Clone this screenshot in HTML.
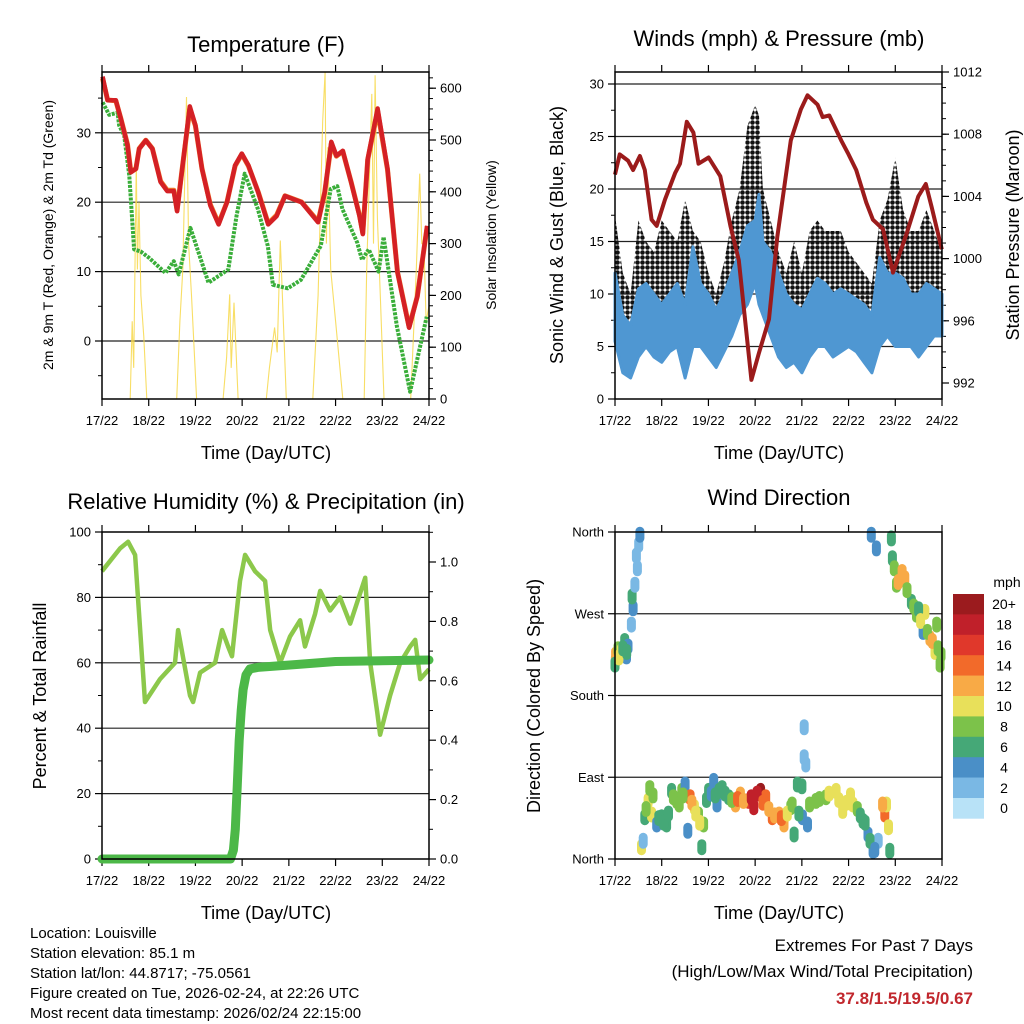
<!DOCTYPE html>
<html><head><meta charset="utf-8"><title>Weather Station Charts</title>
<style>
html,body{margin:0;padding:0;background:#fff;}
svg{display:block;font-family:"Liberation Sans",Arial,sans-serif;}
</style></head>
<body>
<svg id="chart" width="1024" height="1024" viewBox="0 0 1024 1024" xmlns="http://www.w3.org/2000/svg">
<defs>
<pattern id="dotpat" patternUnits="userSpaceOnUse" width="5" height="5">
<circle cx="2.5" cy="2.5" r="2.3" fill="#111"/>
</pattern>
</defs>
<rect width="1024" height="1024" fill="#fff"/>
<text x="266" y="52" font-size="22" text-anchor="middle">Temperature (F)</text>
<text x="779" y="46" font-size="22" text-anchor="middle">Winds (mph) &amp; Pressure (mb)</text>
<text x="266" y="509" font-size="22" text-anchor="middle">Relative Humidity (%) &amp; Precipitation (in)</text>
<text x="779" y="505" font-size="22" text-anchor="middle">Wind Direction</text>
<text x="266" y="459" font-size="18" text-anchor="middle">Time (Day/UTC)</text>
<text x="779" y="459" font-size="18" text-anchor="middle">Time (Day/UTC)</text>
<text x="266" y="919" font-size="18" text-anchor="middle">Time (Day/UTC)</text>
<text x="779" y="919" font-size="18" text-anchor="middle">Time (Day/UTC)</text>
<text transform="translate(53,235) rotate(-90)" font-size="14" text-anchor="middle">2m &amp; 9m T (Red, Orange) &amp; 2m Td (Green)</text>
<text transform="translate(496,235) rotate(-90)" font-size="14" text-anchor="middle">Solar Insolation (Yellow)</text>
<text transform="translate(563,235) rotate(-90)" font-size="18" text-anchor="middle">Sonic Wind &amp; Gust (Blue, Black)</text>
<text transform="translate(1019,235) rotate(-90)" font-size="18" text-anchor="middle">Station Pressure (Maroon)</text>
<text transform="translate(46,696) rotate(-90)" font-size="18" text-anchor="middle">Percent &amp; Total Rainfall</text>
<text transform="translate(540,696) rotate(-90)" font-size="18" text-anchor="middle">Direction (Colored By Speed)</text>
<g font-size="15">
<text x="30" y="938">Location: Louisville</text>
<text x="30" y="958">Station elevation: 85.1 m</text>
<text x="30" y="978">Station lat/lon: 44.8717; -75.0561</text>
<text x="30" y="998">Figure created on Tue, 2026-02-24, at 22:26 UTC</text>
<text x="30" y="1018">Most recent data timestamp: 2026/02/24 22:15:00</text>
</g>
<g font-size="17" text-anchor="end">
<text x="973" y="951">Extremes For Past 7 Days</text>
<text x="973" y="977">(High/Low/Max Wind/Total Precipitation)</text>
<text x="973" y="1004" font-weight="bold" fill="#c1272d">37.8/1.5/19.5/0.67</text>
</g>
<g id="layer"></g>
</svg>
<script>
const dayLabels = ["17/22","18/22","19/22","20/22","21/22","22/22","23/22","24/22"];
const tempTicks = [0,10,20,30];
const solarTicks = [0,100,200,300,400,500,600];
const windTicks = [0,5,10,15,20,25,30];
const presTicks = [992,996,1000,1004,1008,1012];
const rhTicks = [0,20,40,60,80,100];
const pcpTicks = ["0.0","0.2","0.4","0.6","0.8","1.0"];
const dirTickLabels = ["North","East","South","West","North"];
const speedBins = ["0","2","4","6","8","10","12","14","16","18","20+"];

const tempT = [0.3,2.9,7.1,9.7,13.1,14.8,17.4,19.1,22.5,25.9,30.1,33.5,36.9,38.6,41.2,45.1,48,51.4,55.7,59.9,64.2,68.4,71.8,75.2,80.3,85.4,89.7,94,102.5,111,114.4,117.8,120.4,123.7,128,132.3,134,136.5,141.6,146.7,151.8,157.8,162,167.1];
const temp2m = [38.1,34.7,34.7,32,28.2,24.3,24.8,27.7,28.9,27.7,22.9,21.6,21.6,18.7,24.8,33.8,31.1,24.8,19.5,16.8,20,25.3,27,25.3,21.4,16.8,18,20.9,20,17.1,21.4,28.7,26.7,27.4,22.9,18,15.4,26.2,33.5,24.8,9.9,1.9,6.4,16.6];
const temp9m = [38.0,34.9,34.8,32.2,28.5,24.6,25.0,27.9,29.1,27.9,23.2,21.9,21.9,19.0,25.0,33.6,31.2,25.0,19.8,17.1,20.2,25.4,27.1,25.4,21.6,17.1,18.3,21.1,20.2,17.4,21.6,28.6,26.8,27.5,23.1,18.3,15.7,26.3,33.3,24.9,10.1,2.2,6.6,16.7];
const dewT = [0.3,3.7,8,8.8,11.4,14,16.5,19.9,24.1,32.6,36.9,39.4,45.4,54.7,64.9,69.1,73.3,80.1,85.2,87.8,95.4,102.2,112.4,117.5,120.9,123.5,131.1,133.6,137,142.1,144.7,151.5,158.3,166.8];
const dew = [34.4,32.6,32.9,31.1,29.6,23.8,13.2,12.9,12,9.8,11.5,9.6,16.3,8.4,10.3,18,24.1,19,13.7,8.1,7.6,8.8,13.7,21.9,22.3,19,14.2,11.7,13.2,10,15,2.1,-7.3,3.5];
const solT = [0,14.5,15.5,16.3,17.6,18.2,19,20,21.5,23,38.4,40,41.5,43.4,44.5,46,48.6,62.2,64,65.6,66.4,67.8,69.9,84.4,86,88.7,90,91.6,94.7,108.3,111,113.4,114.6,115.3,116,117.5,120,123.7,134.7,136,138.6,139.5,140.3,141.5,143,144.9,158.6,160,161.5,163.2,164.3,165.4,166.5,168];
const solar = [0,0,150,60,457,250,380,200,120,0,0,150,250,583,300,200,0,0,80,202,60,186,0,0,60,138,90,306,0,0,200,537,631,300,486,250,150,0,0,250,589,300,625,350,200,0,0,120,250,435,300,301,150,180];

const presT = [0,2.4,6.7,9.3,12.8,15.3,18.8,21.4,25.7,30.9,33.4,36.9,40.3,42.9,48.1,54.1,59.3,63.6,70.1,73.9,79.1,83.4,90.3,95.5,98.9,104.1,106.7,110.1,116.2,119.6,123.9,129.1,132.5,137.7,142.8,149.8,155.8,159.7,162.7,167.9];
const pressure = [1005.4,1006.7,1006.3,1005.7,1006.6,1005.7,1002.5,1002.1,1003.8,1005.5,1006.1,1008.8,1008.1,1006.1,1006.5,1005.3,1002.1,999.9,992.2,993.9,996.1,1001.4,1007.6,1009.6,1010.5,1009.9,1009.1,1009.2,1007.6,1006.8,1005.7,1003.6,1002.5,1001.9,999.1,1001.6,1004.0,1004.8,1003.3,1000.6];
const windT = [0,4,8,12,16,20,24,28,32,36,40,44,48,52,56,60,64,68,72,74,76,80,84,88,92,96,100,104,108,112,116,120,124,128,132,136,140,144,148,152,156,160,164,168];
const windLo = [5.5,2.5,2,4,5,4,3.5,4.5,5,2,5,5,4,3,4.5,6,8,9,11,9,8,6,4,3,3.5,2.5,4,5,5,4,4.5,5,4.5,3.5,2.5,5,6,5,5,5,4,5,6,6];
const windHi = [12,8,7,10.5,11,10,9,10,11,9,14.5,11,10,8.5,10,12,14,16.5,17,19.5,15,14,12,10,9,8.5,10,11.5,11,10,10.5,10,9.5,9,8,13.5,12,12,11.5,10,10,11,10.5,10];
const gustLo = [8,5,4,8,8,7,7,8,8,8,9,8,6,5,7,10,12,14,15,14,12,9,7,6,7,7,9,10,9,9,9,8,7,6,5,10,12,11,10,10,9,10,10,10];
const gustHi = [17.5,12,10,17,15,14,17,16,15,19,16,15,12,10,13,17,20,26,28,27,20,17,14,12,15,12,16,17,16,16,16,14,13,12,11,17,19,23,18,16,16,18,16,14];

const rhT = [0,9.3,13.4,17,22.1,29.8,37.5,39.1,45.2,46.8,50.4,58.1,61.7,64.8,66.8,70.9,73.5,78.6,83.8,86.4,91.5,96.6,101.8,104.3,109.5,112.1,117.2,122.3,127.5,135.2,137.8,141.4,142.9,148,153.2,158.3,160.9,163.5,168];
const rh = [88,95,97,93,48,55,60,70,50,48,57,60,70,65,62,85,93,88,85,70,60,68,73,65,75,82,76,80,72,86,60,45,38,50,60,65,67,55,58];
const pcpT = [0,66,67.5,68.5,69.5,70.5,71.5,72.5,74,76,80,100,120,168];
const pcp = [0,0,0.03,0.1,0.25,0.4,0.5,0.57,0.62,0.64,0.645,0.655,0.665,0.67];

const dirT = [0.2,0.3,1.55,3.3,5,5.9,6.7,0,8.4,9.3,8.8,10.2,11.5,12.2,12.8,11,13.6,14.5,15.3,17,17.9,18.8,21.4,24,26.5,29.1,31.7,34.3,36,37.4,38.6,40.8,42.9,44.6,45.5,48.1,50.7,52.4,55,58.4,61.9,64.4,68.7,71.3,74.8,77.4,80.8,84.3,86.8,90.3,92,93.7,97.2,97.2,98,96.3,98.9,103.2,108.4,113.6,117,122.2,127.4,130,132.6,135.2,138.6,139.5,141.2,131.7,134.3,142,142.5,144.6,146.3,148.9,152.3,154.9,159.2,158.3,161.8,164.4,167,165.3,
 16,19.5,22.5,25,27.5,30,33,35,39.5,41.5,43.5,47,49.5,51.5,53.5,56.5,60,63,66,70,73,76,79,82,85.5,88.5,91,94.5,96,100,105,110,115,119,121,124.5,126,128.5,131,133.5,137.5,140.5,2,4,6,143.5,145.5,147.5,150,153.5,156,157,160.5,163,166,167.5];
const dirDeg = [218,225,231,229,240,223,234,214,258,276,289,302,320,346,357,334,13,20,46,64,78,49,38,46,38,75,64,75,82,31,68,57,49,13,38,75,86,60,78,68,60,71,64,57,75,68,46,49,38,57,27,82,112,145,104,46,38,64,68,75,53,60,42,27,9,20,49,60,9,357,342,353,331,302,313,309,283,269,272,250,243,228,214,258,
 55,70,45,40,50,68,60,70,62,50,40,65,72,70,75,72,65,66,64,68,72,62,55,48,45,50,60,50,80,60,66,72,65,62,70,55,48,40,20,10,60,35,222,232,228,320,305,316,296,278,275,262,250,240,232,225];
const dirSpd = [8,11,7,9,6,4,3,6,2,4,6,2,2,2,4,2,10,2,6,9,7,10,4,5,5,5,7,8,3,3,14,10,8,6,7,5,3,4,5,5,12,12,16,17,20,14,13,12,11,7,6,5,2,2,2,3,4,7,8,9,10,9,5,4,3,2,13,10,6,4,3,6,5,7,10,12,6,7,10,4,12,9,8,7,
 8,8,6,6,5,7,8,7,12,10,9,5,4,5,6,6,8,13,12,17,18,13,12,12,13,10,8,6,5,7,8,10,9,10,9,7,6,6,5,4,11,9,10,6,5,8,11,12,7,8,6,9,8,11,8,7];
const binColors = ["#b8e2f7","#7ab8e4","#4a8fc7","#45a877","#7cc24a","#e8e05a","#f8aa46","#f26a2a","#e0382b","#c0202a","#9b1b1e"];

const NS = "http://www.w3.org/2000/svg";
const layer = document.getElementById("layer");
function mk(tag, parent){ const e = document.createElementNS(NS, tag); (parent||layer).appendChild(e); return e; }
function setA(e,o){ for(const k in o) e.setAttribute(k,o[k]); }

const P1 = {x0:102,x1:429,y0:72,y1:399};
const P2 = {x0:615,x1:942,y0:72,y1:399};
const P3 = {x0:102,x1:429,y0:532,y1:859};
const P4 = {x0:615,x1:942,y0:532,y1:859};
const xs = P => t => P.x0 + t/168*(P.x1-P.x0);
const p1x = xs(P1), p2x = xs(P2), p3x = xs(P3), p4x = xs(P4);
const p1y = T => 341 - T*6.94;
const p1s = v => 399 - v*0.518;
const p2w = w => 399 - w*10.5;
const p2p = p => 383 - (p-992)*15.55;
const p3r = r => 859 - r*3.27;
const p3p = p => 859 - p*297;
const p4d = d => 859 - d*(327/360);

function pts(ts, vs, fx, fy){ return ts.map((t,i)=>fx(t).toFixed(1)+","+fy(vs[i]).toFixed(1)).join(" "); }
function line(x1,y1,x2,y2,stroke,w,g){ const l=mk("line",g); setA(l,{x1,y1,x2,y2,stroke,"stroke-width":w}); return l; }
function txt(x,y,s,size,anchor,g){ const t=mk("text",g); setA(t,{x,y,"font-size":size,"text-anchor":anchor}); t.textContent=s; return t; }

function frame(P, name){
  const g = mk("g");
  
  
  dayLabels.forEach((d,i)=>{
    const x = P.x0 + i*(P.x1-P.x0)/7;
    line(x,P.y0-7,x,P.y0,"#000",1.2,g);
    line(x,P.y1,x,P.y1+7,"#000",1.2,g);
    const t = txt(x,P.y1+26,d,13,"middle",g);
    
    
  });
  return g;
}
function border(P){
  const r = mk("rect");
  setA(r,{x:P.x0,y:P.y0,width:P.x1-P.x0,height:P.y1-P.y0,fill:"none",stroke:"#000","stroke-width":1.5});
  
  
}
function grid(P, ys){
  const g = mk("g");
  
  
  ys.forEach(y=>line(P.x0,y,P.x1,y,"#222",1.2,g));
}
function yticks(P, side, vals, fy, labels, minorVals){
  const g = mk("g");
  
  
  const x = side==="left"?P.x0:P.x1, d = side==="left"?-1:1;
  (minorVals||[]).forEach(v=>line(x,fy(v),x+d*4,fy(v),"#000",1,g));
  vals.forEach((v,i)=>{
    const y = fy(v);
    line(x,y,x+d*7,y,"#000",1.2,g);
    const t = txt(side==="left"?x-11:x+11, y+4.5, labels[i], 13, side==="left"?"end":"start", g);
    
    
  });
}
function range(a,b,s){ const r=[]; for(let v=a; v<=b+1e-9; v+=s) r.push(+v.toFixed(3)); return r; }

// Panel 1
frame(P1,"temperature-panel");
grid(P1, tempTicks.map(p1y));
yticks(P1,"left",tempTicks,p1y,tempTicks.map(String),[-5,5,15,25,35]);
yticks(P1,"right",solarTicks,p1s,solarTicks.map(String),range(20,620,20));
const solarLine = mk("polyline");
setA(solarLine,{points:pts(solT,solar,p1x,p1s),fill:"none",stroke:"#f7d84a","stroke-width":1.1,opacity:0.85});


const dewLine = mk("polyline");
setA(dewLine,{points:pts(dewT,dew,p1x,p1y),fill:"none",stroke:"#3aae3a","stroke-width":4,"stroke-dasharray":"3 1.2","stroke-linejoin":"round"});


const t9Line = mk("polyline");
setA(t9Line,{points:pts(tempT,temp9m,p1x,p1y),fill:"none",stroke:"#f07a2a","stroke-width":5,"stroke-linejoin":"round",transform:"translate(0,1.2)"});


const t2Line = mk("polyline");
setA(t2Line,{points:pts(tempT,temp2m,p1x,p1y),fill:"none",stroke:"#d42025","stroke-width":4.5,"stroke-linejoin":"round"});


border(P1);

// Panel 2
frame(P2,"winds-panel");
grid(P2, windTicks.slice(1).map(p2w));
yticks(P2,"left",windTicks,p2w,windTicks.map(String),range(2.5,30,5));
yticks(P2,"right",presTicks,p2p,presTicks.map(String),range(993,1011,1));
function band(ts,lo,hi,fx,fy,fill,stroke){
  const up = ts.map((t,i)=>fx(t).toFixed(1)+","+fy(hi[i]).toFixed(1));
  const dn = ts.map((t,i)=>fx(t).toFixed(1)+","+fy(lo[i]).toFixed(1)).reverse();
  const p = mk("polygon");
  setA(p,{points:up.concat(dn).join(" "),fill,stroke:stroke,"stroke-width":stroke==="none"?0:3,"stroke-linejoin":"round"});
  return p;
}
const gustBand = band(windT,gustLo,gustHi,p2x,p2w,"url(#dotpat)","none");


const windBand = band(windT,windLo,windHi,p2x,p2w,"#4f97d2","#4f97d2");


const presLine = mk("polyline");
setA(presLine,{points:pts(presT,pressure,p2x,p2p),fill:"none",stroke:"#9b1b1b","stroke-width":4,"stroke-linejoin":"round"});


border(P2);

// Panel 3
frame(P3,"humidity-panel");
grid(P3, rhTicks.slice(1,5).map(p3r));
yticks(P3,"left",rhTicks,p3r,rhTicks.map(String),range(10,90,20));
yticks(P3,"right",pcpTicks.map(Number),p3p,pcpTicks,range(0.1,1.1,0.2));
const rhLine = mk("polyline");
setA(rhLine,{points:pts(rhT,rh,p3x,p3r),fill:"none",stroke:"#8cc84b","stroke-width":4.5,"stroke-linejoin":"round"});


const pcpLine = mk("polyline");
setA(pcpLine,{points:pts(pcpT,pcp,p3x,p3p),fill:"none",stroke:"#4cb848","stroke-width":9,"stroke-linejoin":"round","stroke-linecap":"round"});


border(P3);

// Panel 4
frame(P4,"wind-direction-panel");
grid(P4, [90,180,270].map(p4d));
yticks(P4,"left",[0,90,180,270,360],p4d,dirTickLabels,[]);
const dg = mk("g");


dirT.forEach((t,i)=>{
  const bi = Math.max(0,Math.min(10,Math.floor((dirSpd[i]+1)/2)));
  const cx = p4x(t), cy = p4d(dirDeg[i]);
  const c = mk("rect",dg);
  setA(c,{x:(cx-4.5).toFixed(1),y:(cy-8).toFixed(1),width:9,height:16,rx:4.5,fill:binColors[bi]});
  
  
});
border(P4);

const cb = mk("g");


const cbTop = 594, cbH = 20.4;
speedBins.slice().reverse().forEach((lab,i)=>{
  const r = mk("rect",cb);
  setA(r,{x:953,y:cbTop+i*cbH,width:31,height:cbH+0.3,fill:binColors[10-i]});
  
  
  const t = txt(1004,cbTop+i*cbH+cbH/2+5,lab,14,"middle",cb);
  
  
});
const mph = txt(1007,587,"mph",14,"middle",cb);


</script>
</body></html>
